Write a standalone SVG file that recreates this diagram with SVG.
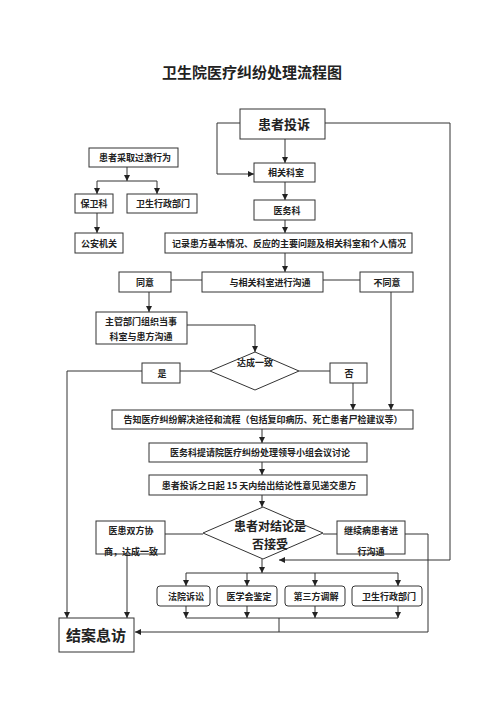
<svg xmlns="http://www.w3.org/2000/svg" width="500" height="708" viewBox="0 0 500 708">
<defs>
<marker id="ah" viewBox="0 0 10 10" refX="10" refY="5" markerWidth="6" markerHeight="6" orient="auto" markerUnits="userSpaceOnUse">
<path d="M0,0 L10,5 L0,10 z" fill="#222"/>
</marker>
<style>
.b{fill:#fff;stroke:#333;stroke-width:1}
.t{font-family:"Noto Sans CJK SC","Liberation Serif",sans-serif;font-size:9px;fill:#222;text-anchor:middle;font-weight:bold}
.l{fill:none;stroke:#333;stroke-width:1}
.a{fill:none;stroke:#333;stroke-width:1;marker-end:url(#ah)}
</style>
</defs>
<rect width="500" height="708" fill="#fff"/>
<text x="252" y="78" class="t" style="font-size:15px">卫生院医疗纠纷处理流程图</text>

<g id="connectors">
<path class="l" d="M240,123 H217 V174"/><path class="a" d="M217,174 H254"/>
<path class="a" d="M285,139 V163"/>
<path class="l" d="M325,123 H450 V560"/><path class="a" d="M450,560 H279"/>
<path class="a" d="M285,182 V200"/>
<path class="a" d="M285,220 V233"/>
<path class="a" d="M285,253 V272"/>
<path class="a" d="M127,167 V181"/>
<path class="l" d="M97,181 H157"/>
<path class="a" d="M97,181 V194"/><path class="a" d="M157,181 V194"/>
<path class="a" d="M97,213 V233"/>
<path class="l" d="M171,280 H202"/><path class="l" d="M323,280 H360"/>
<path class="a" d="M149,292 V312"/>
<path class="l" d="M187,325 H255"/><path class="a" d="M255,325 V352"/>
<path class="l" d="M210,371 H180"/><path class="l" d="M142,371 H67"/><path class="a" d="M67,371 V618"/>
<path class="l" d="M299,371 H330"/>
<path class="a" d="M353,383 V410"/>
<path class="a" d="M391,292 V410"/>
<path class="a" d="M262,429 V443"/>
<path class="a" d="M262,462 V475"/>
<path class="a" d="M262,495 V507"/>
<path class="l" d="M165,534 H203"/><path class="l" d="M323,534 H337"/>
<path class="a" d="M127,554 V618"/>
<path class="l" d="M405,534 H428 V632"/><path class="a" d="M428,632 H135"/>
<path class="a" d="M262,559 V573"/>
<path class="l" d="M186,573 H398"/>
<path class="a" d="M186,573 V586"/><path class="a" d="M247,573 V586"/><path class="a" d="M315,573 V586"/><path class="a" d="M398,573 V586"/>
<path class="a" d="M186,606 V618"/><path class="a" d="M247,606 V618"/><path class="a" d="M315,606 V618"/><path class="a" d="M398,606 V618"/>
<path class="l" d="M186,618 H398"/>
<path class="l" d="M279,618 V632"/>
</g>

<g id="n-complaint"><rect class="b" x="240" y="109" width="85" height="30"/><text class="t" x="284" y="129" style="font-size:13px">患者投诉</text></g>
<g id="n-dept"><rect class="b" x="254" y="163" width="61" height="19"/><text class="t" x="286" y="176">相关科室</text></g>
<g id="n-med"><rect class="b" x="254" y="200" width="61" height="20"/><text class="t" x="287" y="214">医务科</text></g>
<g id="n-record"><rect class="b" x="165" y="233" width="247" height="20"/><text class="t" x="289" y="247">记录患方基本情况、反应的主要问题及相关科室和个人情况</text></g>
<g id="n-excess"><rect class="b" x="89" y="148" width="89" height="19"/><text class="t" x="135" y="161">患者采取过激行为</text></g>
<g id="n-security"><rect class="b" x="75" y="194" width="38" height="19"/><text class="t" x="94" y="207">保卫科</text></g>
<g id="n-health1"><rect class="b" x="127" y="194" width="70" height="19"/><text class="t" x="163" y="207">卫生行政部门</text></g>
<g id="n-police"><rect class="b" x="75" y="233" width="48" height="20"/><text class="t" x="99" y="247">公安机关</text></g>
<g id="n-communicate"><rect class="b" x="202" y="272" width="121" height="20"/><text class="t" x="270" y="286">与相关科室进行沟通</text></g>
<g id="n-agree"><rect class="b" x="119" y="272" width="52" height="20"/><text class="t" x="145" y="286">同意</text></g>
<g id="n-disagree"><rect class="b" x="360" y="272" width="53" height="20"/><text class="t" x="387" y="286">不同意</text></g>
<g id="n-organize"><rect class="b" x="96" y="312" width="91" height="32"/><text class="t" x="141" y="325">主管部门组织当事</text><text class="t" x="141" y="340">科室与患方沟通</text></g>
<g id="n-consensus"><polygon class="b" points="255,352 299,371 255,390 210,371"/><text class="t" x="255" y="366">达成一致</text></g>
<g id="n-yes"><rect class="b" x="142" y="363" width="38" height="20"/><text class="t" x="162" y="377">是</text></g>
<g id="n-no"><rect class="b" x="330" y="363" width="37" height="20"/><text class="t" x="349" y="377">否</text></g>
<g id="n-inform"><rect class="b" x="112" y="410" width="301" height="19"/><text class="t" x="263" y="423">告知医疗纠纷解决途径和流程（包括复印病历、死亡患者尸检建议等）</text></g>
<g id="n-meeting"><rect class="b" x="149" y="443" width="218" height="19"/><text class="t" x="260" y="456">医务科提请院医疗纠纷处理领导小组会议讨论</text></g>
<g id="n-15days"><rect class="b" x="149" y="475" width="218" height="20"/><text class="t" x="259" y="489">患者投诉之日起 15 天内给出结论性意见递交患方</text></g>
<g id="n-accept"><polygon class="b" points="263,507 323,533 263,559 203,533"/><text class="t" x="270" y="531" style="font-size:12px">患者对结论是</text><text class="t" x="270" y="549" style="font-size:12px">否接受</text></g>
<g id="n-negotiate"><rect class="b" x="96" y="521" width="69" height="33"/><text class="t" x="131" y="534">医患双方协</text><text class="t" x="131" y="555">商，达成一致</text></g>
<g id="n-continue"><rect class="b" x="337" y="521" width="68" height="33"/><text class="t" x="371" y="534">继续病患者进</text><text class="t" x="371" y="555">行沟通</text></g>
<g id="n-court"><rect class="b" x="157" y="586" width="53" height="20" rx="3"/><text class="t" x="186" y="600">法院诉讼</text></g>
<g id="n-medsoc"><rect class="b" x="217" y="586" width="60" height="20" rx="3"/><text class="t" x="249" y="600">医学会鉴定</text></g>
<g id="n-third"><rect class="b" x="285" y="586" width="60" height="20" rx="3"/><text class="t" x="316" y="600">第三方调解</text></g>
<g id="n-health2"><rect class="b" x="352" y="586" width="70" height="20" rx="3"/><text class="t" x="389" y="600">卫生行政部门</text></g>
<g id="n-close"><rect class="b" x="59" y="618" width="75" height="34"/><text class="t" x="96" y="641" style="font-size:15px">结案息访</text></g>
</svg>
